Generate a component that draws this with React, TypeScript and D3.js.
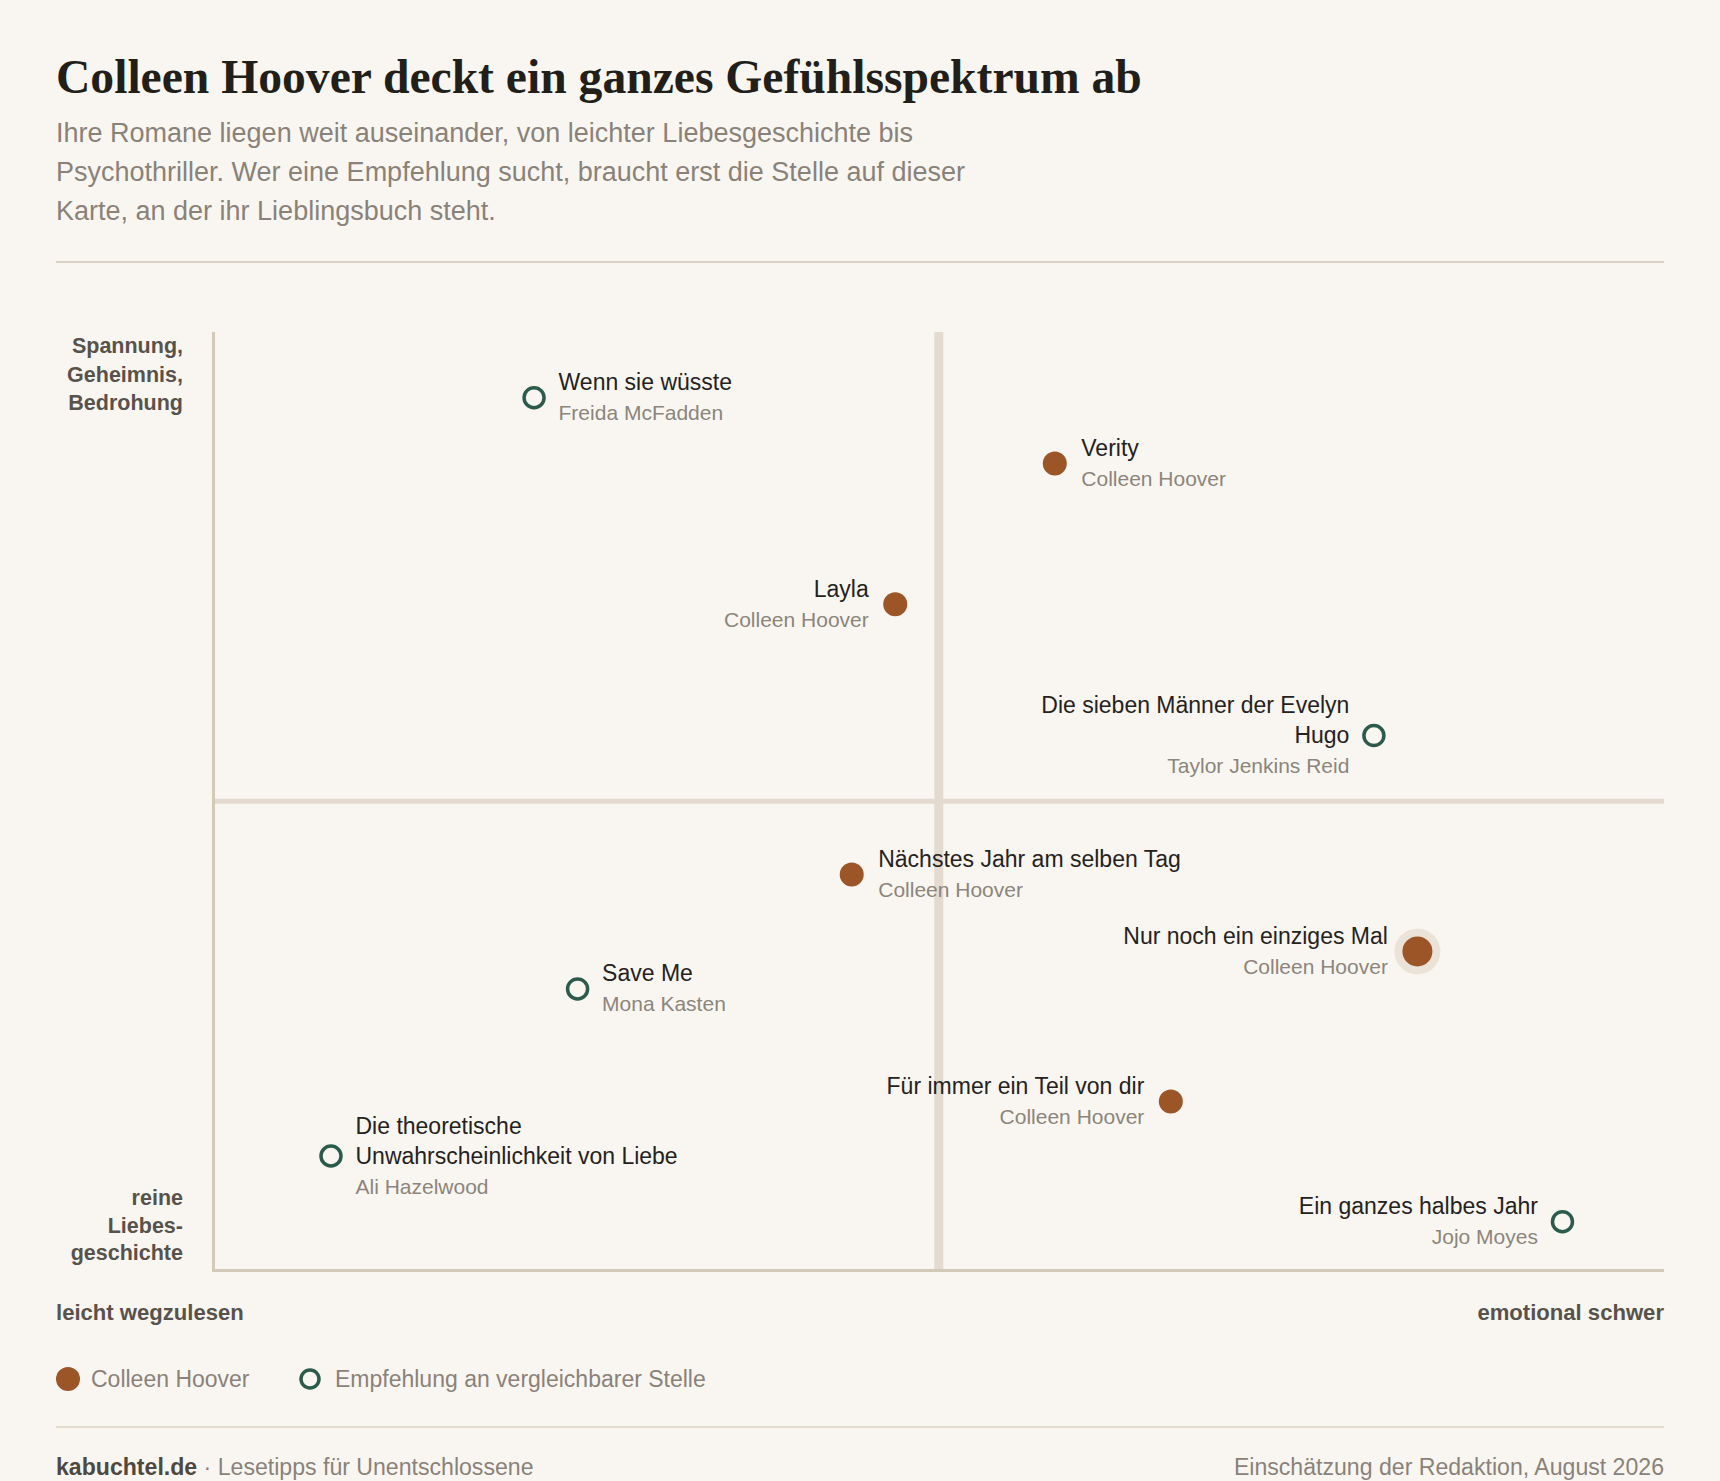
import React from "react";
import * as d3 from "d3";

const W = 1720;
const H = 1481;

// --- data ---
const bookTitles: string[][] = [
  ["Wenn sie wüsste"],
  ["Verity"],
  ["Layla"],
  ["Die sieben Männer der Evelyn", "Hugo"],
  ["Nächstes Jahr am selben Tag"],
  ["Nur noch ein einziges Mal"],
  ["Save Me"],
  ["Die theoretische", "Unwahrscheinlichkeit von Liebe"],
  ["Für immer ein Teil von dir"],
  ["Ein ganzes halbes Jahr"],
];
const bookAuthors: string[] = [
  "Freida McFadden",
  "Colleen Hoover",
  "Colleen Hoover",
  "Taylor Jenkins Reid",
  "Colleen Hoover",
  "Colleen Hoover",
  "Mona Kasten",
  "Ali Hazelwood",
  "Colleen Hoover",
  "Jojo Moyes",
];
// x: leicht wegzulesen (0) -> emotional schwer (100)
const heaviness: number[] = [22.1, 58.0, 47.0, 80.0, 44.0, 83.0, 25.1, 8.1, 66.0, 93.0];
// y: reine Liebesgeschichte (0) -> Spannung, Geheimnis, Bedrohung (100)
const suspense: number[] = [93.0, 86.0, 71.0, 57.0, 42.2, 34.0, 30.0, 12.2, 18.0, 5.2];
const isHoover: boolean[] = [false, true, true, false, true, true, false, false, true, false];
const labelSide: ("left" | "right")[] = [
  "right", "right", "left", "left", "right", "left", "right", "right", "left", "left",
];
const highlighted: boolean[] = [false, false, false, false, false, true, false, false, false, false];

const titleText = "Colleen Hoover deckt ein ganzes Gefühlsspektrum ab";
const subtitleLines = [
  "Ihre Romane liegen weit auseinander, von leichter Liebesgeschichte bis",
  "Psychothriller. Wer eine Empfehlung sucht, braucht erst die Stelle auf dieser",
  "Karte, an der ihr Lieblingsbuch steht.",
];
const yTopLabel = ["Spannung,", "Geheimnis,", "Bedrohung"];
const yBottomLabel = ["reine", "Liebes-", "geschichte"];
const xLeftLabel = "leicht wegzulesen";
const xRightLabel = "emotional schwer";
const legendItems = ["Colleen Hoover", "Empfehlung an vergleichbarer Stelle"];
const footerSite = "kabuchtel.de";
const footerTag = " · Lesetipps für Unentschlossene";
const footerRight = "Einschätzung der Redaktion, August 2026";

// --- style ---
const BG = "#f9f6f1";
const BROWN = "#9b5527";
const GREEN = "#2c5a4b";
const SANS = "'Liberation Sans', Arial, Helvetica, sans-serif";
const SERIF = "'Liberation Serif', 'Times New Roman', serif";

export default function App() {
  const left = 56;
  const right = 1664;
  const plotL = 213.5;
  const plotR = 1664;
  const plotT = 332;
  const plotB = 1270.5;

  const x = d3.scaleLinear().domain([0, 100]).range([plotL, plotR]);
  const y = d3.scaleLinear().domain([0, 100]).range([plotB, plotT]);

  const lineH = 30;

  return (
    <div style={{ position: "absolute", left: 0, top: 0, width: W, height: H, background: BG }}>
      <svg width={W} height={H} style={{ display: "block" }}>
        <rect x={0} y={0} width={W} height={H} fill={BG} />
        {/* header */}
        <text x={left} y={93} fontFamily={SERIF} fontWeight={700} fontSize={47.6} fill="#221f1a">
          {titleText}
        </text>
        {subtitleLines.map((s, i) => (
          <text key={i} x={left} y={142 + i * 39} fontFamily={SANS} fontSize={27} fill="#8a8279">
            {s}
          </text>
        ))}
        <line x1={left} x2={right} y1={262} y2={262} stroke="#cfc6b8" strokeWidth={1.5} />

        {/* quadrant lines */}
        <line x1={x(50)} x2={x(50)} y1={plotT} y2={plotB} stroke="#e3dbcf" strokeWidth={9} />
        <line x1={plotL} x2={plotR} y1={y(50)} y2={y(50)} stroke="#e3dbcf" strokeWidth={5} />
        {/* axes */}
        <line x1={plotL} x2={plotL} y1={plotT} y2={plotB + 1.5} stroke="#d3c9b9" strokeWidth={3} />
        <line x1={plotL - 1.5} x2={plotR} y1={plotB} y2={plotB} stroke="#d3c9b9" strokeWidth={3} />

        {/* axis labels */}
        {yTopLabel.map((s, i) => (
          <text key={"yt" + i} x={183} y={353 + i * 28.5} textAnchor="end" fontFamily={SANS}
            fontWeight={700} fontSize={21.5} fill="#58524c">{s}</text>
        ))}
        {yBottomLabel.map((s, i) => (
          <text key={"yb" + i} x={183} y={1205 + i * 27.5} textAnchor="end" fontFamily={SANS}
            fontWeight={700} fontSize={21.5} fill="#58524c">{s}</text>
        ))}
        <text x={left} y={1320} fontFamily={SANS} fontWeight={700} fontSize={22.1} fill="#58524c">
          {xLeftLabel}
        </text>
        <text x={right} y={1320} textAnchor="end" fontFamily={SANS} fontWeight={700} fontSize={22.1} fill="#58524c">
          {xRightLabel}
        </text>

        {/* points */}
        {heaviness.map((hv, i) => {
          const cx = x(hv);
          const cy = y(suspense[i]);
          const r = highlighted[i] ? 15 : isHoover[i] ? 12 : 10;
          const side = labelSide[i];
          const off = r + 14.5;
          const tx = side === "right" ? cx + off : cx - off;
          const anchor = side === "right" ? "start" : "end";
          const lines = bookTitles[i];
          const n = lines.length + 1;
          const base = (k: number) => cy + (k - (n - 1) / 2) * lineH + 7.5;
          return (
            <g key={i}>
              {highlighted[i] && <circle cx={cx} cy={cy} r={23} fill="#ece3d8" />}
              {isHoover[i] ? (
                <circle cx={cx} cy={cy} r={r} fill={BROWN} />
              ) : (
                <circle cx={cx} cy={cy} r={r} fill={BG} stroke={GREEN} strokeWidth={3.5} />
              )}
              {lines.map((l, k) => (
                <text key={k} x={tx} y={base(k)} textAnchor={anchor} fontFamily={SANS}
                  fontSize={23} fill="#25221e">{l}</text>
              ))}
              <text x={tx} y={base(lines.length)} textAnchor={anchor} fontFamily={SANS}
                fontSize={21} fill="#8c857c">{bookAuthors[i]}</text>
            </g>
          );
        })}

        {/* legend */}
        <circle cx={68} cy={1379} r={12} fill={BROWN} />
        <text x={91} y={1387} fontFamily={SANS} fontSize={23} fill="#8a8279">{legendItems[0]}</text>
        <circle cx={310} cy={1379} r={9} fill={BG} stroke={GREEN} strokeWidth={3.5} />
        <text x={335} y={1387} fontFamily={SANS} fontSize={23} fill="#8a8279">{legendItems[1]}</text>

        {/* footer */}
        <line x1={left} x2={right} y1={1427} y2={1427} stroke="#e3dbcf" strokeWidth={2} />
        <text x={left} y={1475} fontFamily={SANS} fontSize={23.1} fill="#8a8279">
          <tspan fontWeight={700} fill="#4e4843">{footerSite}</tspan>
          <tspan>{footerTag}</tspan>
        </text>
        <text x={right} y={1475} textAnchor="end" fontFamily={SANS} fontSize={23.1} fill="#8a8279">
          {footerRight}
        </text>
      </svg>
    </div>
  );
}
